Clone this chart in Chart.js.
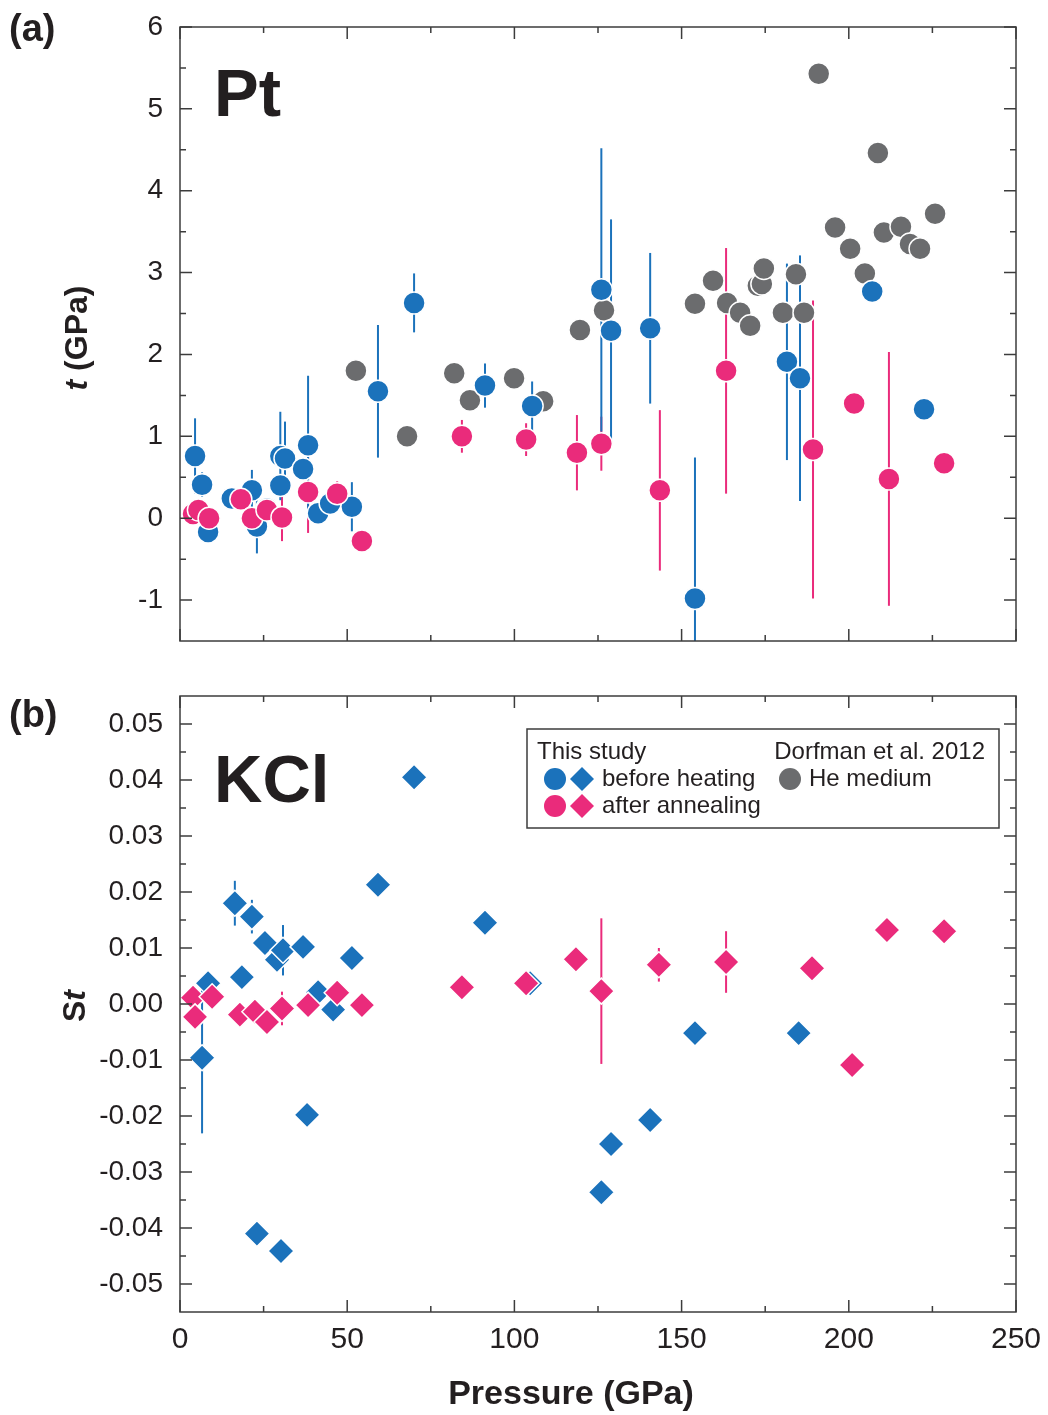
<!DOCTYPE html>
<html>
<head>
<meta charset="utf-8">
<script src="https://cdn.jsdelivr.net/npm/chart.js@4.4.1/dist/chart.umd.min.js"></script>
<style>
  body { margin: 0; background: #fff; }
  .wrap { position: relative; width: 1048px; height: 1415px; }
  canvas { position: absolute; left: 0; }
  #ptChart { top: 0; }
  #kclChart { top: 660px; }
</style>
</head>
<body>
<div class="wrap">
  <canvas id="ptChart" width="1048" height="660"></canvas>
  <canvas id="kclChart" width="1048" height="755"></canvas>
</div>
<script>
const FONT = '"Liberation Sans", Arial, Helvetica, sans-serif';
const INK = '#231f20';
const BLUE = '#1b72bb';
const PINK = '#ea2b7b';
const GRAY = '#6b6c6e';

// tick labels
const pressureTicks = [0, 50, 100, 150, 200, 250];
const ptTicks = [-1, 0, 1, 2, 3, 4, 5, 6];
const kclTicks = [-0.05, -0.04, -0.03, -0.02, -0.01, 0, 0.01, 0.02, 0.03, 0.04, 0.05];

// (a) Pt, this study, before heating
const ptBeforeP = [4.5, 6.6, 8.4, 15.5, 21.5, 23.0, 26.0, 30.0, 31.4, 30.0, 36.8, 38.3, 41.3, 44.9, 51.4, 59.2, 70.0, 91.2, 105.3, 126.0, 128.9, 140.6, 154.0, 181.5, 185.4, 207.0, 222.5];
const ptBeforeT = [0.76, 0.41, -0.17, 0.24, 0.34, -0.10, 0.12, 0.76, 0.73, 0.40, 0.60, 0.89, 0.06, 0.18, 0.14, 1.55, 2.63, 1.62, 1.37, 2.79, 2.29, 2.32, -0.98, 1.91, 1.71, 2.77, 1.33];
const ptBeforeErr = [0.46, 0.15, 0.10, 0.10, 0.25, 0.33, 0.10, 0.54, 0.45, 0.10, 0.10, 0.85, 0.10, 0.10, 0.30, 0.81, 0.36, 0.27, 0.30, 1.73, 1.36, 0.92, 1.72, 1.20, 1.50, 0, 0];

// (a) Pt, this study, after annealing
const ptAfterP = [3.9, 5.5, 8.7, 18.2, 21.5, 26.0, 30.5, 38.3, 47.0, 54.4, 84.3, 103.5, 118.7, 126.0, 143.5, 163.3, 189.3, 201.6, 212.0, 228.5];
const ptAfterT = [0.05, 0.10, 0.00, 0.23, 0.00, 0.10, 0.01, 0.32, 0.30, -0.28, 1.00, 0.96, 0.80, 0.91, 0.34, 1.80, 0.84, 1.40, 0.48, 0.67];
const ptAfterErr = [0.1, 0.1, 0.1, 0.1, 0.1, 0.1, 0.29, 0.5, 0.15, 0.1, 0.2, 0.2, 0.46, 0.33, 0.98, 1.5, 1.82, 0, 1.55, 0.05];

// (a) Pt, Dorfman et al. 2012, He medium
const ptHeP = [52.6, 67.9, 82.0, 86.7, 99.9, 108.6, 119.6, 126.8, 154.0, 159.4, 163.6, 167.5, 170.5, 172.8, 174.0, 174.6, 180.3, 184.2, 186.6, 191.0, 195.9, 200.4, 204.8, 208.7, 210.5, 215.6, 218.3, 221.3, 225.8];
const ptHeT = [1.80, 1.00, 1.77, 1.44, 1.71, 1.43, 2.30, 2.54, 2.62, 2.90, 2.63, 2.51, 2.35, 2.84, 2.86, 3.05, 2.51, 2.98, 2.51, 5.43, 3.55, 3.29, 2.99, 4.46, 3.49, 3.56, 3.35, 3.29, 3.72];

// (b) KCl, before heating
const kclBeforeP = [6.6, 8.4, 16.4, 18.5, 21.5, 23.0, 25.4, 29.0, 30.2, 30.8, 36.8, 38.0, 41.3, 45.8, 51.4, 59.2, 70.0, 91.2, 104.7, 126.0, 128.9, 140.6, 154.0, 185.0];
const kclBeforeSt = [-0.0096, 0.0037, 0.0180, 0.0048, 0.0156, -0.0410, 0.0109, 0.0079, -0.0441, 0.0096, 0.0102, -0.0198, 0.0021, -0.0010, 0.0082, 0.0213, 0.0405, 0.0145, 0.0037, -0.0336, -0.0250, -0.0207, -0.0052, -0.0052];
const kclBeforeErr = [0.0135, 0.001, 0.004, 0, 0.003, 0, 0.001, 0.002, 0, 0.0045, 0, 0, 0, 0, 0, 0, 0, 0, 0, 0, 0, 0, 0, 0];

// (b) KCl, after annealing
const kclAfterP = [3.9, 4.5, 9.6, 17.9, 22.4, 26.0, 30.5, 38.3, 47.0, 54.4, 84.3, 103.5, 118.4, 126.0, 143.2, 163.3, 189.0, 201.0, 211.4, 228.5];
const kclAfterSt = [0.0011, -0.0023, 0.0013, -0.0019, -0.0014, -0.0032, -0.0008, -0.0002, 0.0020, -0.0002, 0.0030, 0.0037, 0.0080, 0.0023, 0.0070, 0.0075, 0.0064, -0.0109, 0.0132, 0.0130];
const kclAfterErr = [0, 0, 0, 0, 0, 0, 0.003, 0, 0.001, 0, 0, 0, 0.001, 0.013, 0.003, 0.0055, 0, 0, 0, 0];

const toPoints = (xs, ys) => xs.map((x, i) => ({ x: x, y: ys[i] }));

// vertical error bars, drawn under the markers
const errorBars = {
    id: 'errorBars',
    beforeDatasetsDraw(chart) {
        const { ctx, chartArea: a, scales } = chart;
        ctx.save();
        ctx.beginPath();
        ctx.rect(a.left, a.top, a.right - a.left, a.bottom - a.top);
        ctx.clip();
        chart.data.datasets.forEach((ds, i) => {
            if (!ds.errors) return;
            const meta = chart.getDatasetMeta(i);
            ctx.strokeStyle = ds.backgroundColor;
            ctx.lineWidth = 2;
            ds.data.forEach((d, j) => {
                const e = ds.errors[j];
                if (!e) return;
                const x = meta.data[j].x;
                ctx.beginPath();
                ctx.moveTo(x, scales.y.getPixelForValue(d.y + e));
                ctx.lineTo(x, scales.y.getPixelForValue(d.y - e));
                ctx.stroke();
            });
        });
        ctx.restore();
    }
};

// box round the plot with inward ticks on all four sides
const frame = {
    id: 'frame',
    afterDatasetsDraw(chart) {
        const { ctx, chartArea: a, scales: { x, y } } = chart;
        const mid = v => v.slice(1).map((t, i) => (t + v[i]) / 2);
        const xt = x.ticks.map(t => t.value);
        const yt = y.ticks.map(t => t.value);
        ctx.save();
        ctx.strokeStyle = '#3c3c3c';
        ctx.lineWidth = 1.5;
        ctx.strokeRect(a.left, a.top, a.right - a.left, a.bottom - a.top);
        ctx.beginPath();
        const xMarks = (vals, len) => vals.forEach(v => {
            const px = x.getPixelForValue(v);
            ctx.moveTo(px, a.bottom); ctx.lineTo(px, a.bottom - len);
            ctx.moveTo(px, a.top); ctx.lineTo(px, a.top + len);
        });
        const yMarks = (vals, len) => vals.forEach(v => {
            const py = y.getPixelForValue(v);
            ctx.moveTo(a.left, py); ctx.lineTo(a.left + len, py);
            ctx.moveTo(a.right, py); ctx.lineTo(a.right - len, py);
        });
        xMarks(xt, 12); xMarks(mid(xt), 6);
        yMarks(yt, 12); yMarks(mid(yt), 6);
        ctx.stroke();
        ctx.restore();
    }
};

function drawYTitle(ctx, cx, cy, parts) {
    ctx.save();
    ctx.translate(cx, cy);
    ctx.rotate(-Math.PI / 2);
    ctx.fillStyle = INK;
    ctx.textBaseline = 'middle';
    ctx.textAlign = 'left';
    const fonts = parts.map(p => (p.italic ? 'italic ' : '') + 'bold 32px ' + FONT);
    let total = 0;
    parts.forEach((p, i) => { ctx.font = fonts[i]; total += ctx.measureText(p.text).width; });
    let xPos = -total / 2;
    parts.forEach((p, i) => {
        ctx.font = fonts[i];
        ctx.fillText(p.text, xPos, 0);
        xPos += ctx.measureText(p.text).width;
    });
    ctx.restore();
}

function drawText(ctx, text, x, y, font, align, baseline) {
    ctx.save();
    ctx.font = font;
    ctx.fillStyle = INK;
    ctx.textAlign = align || 'left';
    ctx.textBaseline = baseline || 'alphabetic';
    ctx.fillText(text, x, y);
    ctx.restore();
}

function circle(ctx, x, y, r, color) {
    ctx.beginPath();
    ctx.arc(x, y, r, 0, Math.PI * 2);
    ctx.fillStyle = color;
    ctx.fill();
}

function diamond(ctx, x, y, r, color) {
    ctx.beginPath();
    ctx.moveTo(x - r, y); ctx.lineTo(x, y - r); ctx.lineTo(x + r, y); ctx.lineTo(x, y + r);
    ctx.closePath();
    ctx.fillStyle = color;
    ctx.fill();
}

const ptLabels = {
    id: 'ptLabels',
    afterDraw(chart) {
        const { ctx, chartArea: a } = chart;
        drawText(ctx, '(a)', 9, 31, 'bold 38px ' + FONT, 'left', 'middle');
        drawText(ctx, 'Pt', a.left + 34, a.top + 89, 'bold 67px ' + FONT);
        drawYTitle(ctx, 78, (a.top + a.bottom) / 2 + 4, [{ text: 't', italic: true }, { text: ' (GPa)' }]);
    }
};

const kclLabels = {
    id: 'kclLabels',
    afterDraw(chart) {
        const { ctx, chartArea: a } = chart;
        drawText(ctx, '(b)', 9, 57, 'bold 38px ' + FONT, 'left', 'middle');
        drawText(ctx, 'KCl', a.left + 34, a.top + 106, 'bold 67px ' + FONT);
        drawYTitle(ctx, 76, (a.top + a.bottom) / 2 + 2, [{ text: 'S' }, { text: 't', italic: true }]);
        // x axis title, sits a little left of the plot centre as in the figure
        drawText(ctx, 'Pressure (GPa)', (a.left + a.right) / 2 - 27, a.bottom + 83, 'bold 34px ' + FONT, 'center', 'middle');

        // legend box
        const left = a.left + 347, top = a.top + 33;
        const right = a.right - 17, bottom = a.top + 132;
        ctx.save();
        ctx.fillStyle = '#fff';
        ctx.fillRect(left, top, right - left, bottom - top);
        ctx.strokeStyle = '#3c3c3c';
        ctx.lineWidth = 1.5;
        ctx.strokeRect(left, top, right - left, bottom - top);
        ctx.restore();
        const f = '24px ' + FONT;
        drawText(ctx, 'This study', left + 10, top + 23, f, 'left', 'middle');
        drawText(ctx, 'Dorfman et al. 2012', right - 14, top + 23, f, 'right', 'middle');
        circle(ctx, left + 28, top + 50, 11, BLUE);
        diamond(ctx, left + 55, top + 50, 12, BLUE);
        drawText(ctx, 'before heating', left + 75, top + 50, f, 'left', 'middle');
        circle(ctx, left + 263, top + 50, 11, GRAY);
        drawText(ctx, 'He medium', left + 282, top + 50, f, 'left', 'middle');
        circle(ctx, left + 28, top + 77, 11, PINK);
        diamond(ctx, left + 55, top + 77, 12, PINK);
        drawText(ctx, 'after annealing', left + 75, top + 77, f, 'left', 'middle');
    }
};

// ignore the label overhang padding so the plot box lands where it should
const noOverhang = s => { s.paddingTop = 0; s.paddingBottom = 0; s.paddingLeft = 0; s.paddingRight = 0; };

function xScale(showLabels, height) {
    return {
        type: 'linear', min: 0, max: 250,
        afterBuildTicks: s => { s.ticks = pressureTicks.map(v => ({ value: v })); },
        grid: { display: false, drawTicks: false },
        border: { display: false },
        ticks: { display: showLabels, font: { family: FONT, size: 30 }, color: INK, padding: 10, maxRotation: 0 },
        afterFit: s => { s.height = height; noOverhang(s); }
    };
}

function yScale(min, max, tickVals, fmt) {
    return {
        type: 'linear', min: min, max: max,
        afterBuildTicks: s => { s.ticks = tickVals.map(v => ({ value: v })); },
        grid: { display: false, drawTicks: false },
        border: { display: false },
        ticks: { font: { family: FONT, size: 28 }, color: INK, padding: 17, callback: fmt },
        afterFit: s => { s.width = 180; noOverhang(s); }
    };
}

const pointStyle = (color, style, r) => ({
    backgroundColor: color, borderColor: '#fff', borderWidth: 1.5,
    pointStyle: style, pointRadius: r, pointHoverRadius: r
});

new Chart(document.getElementById('ptChart'), {
    type: 'scatter',
    data: {
        datasets: [
            Object.assign({ label: 'after annealing', data: toPoints(ptAfterP, ptAfterT), errors: ptAfterErr, order: 1 }, pointStyle(PINK, 'circle', 11)),
            Object.assign({ label: 'before heating', data: toPoints(ptBeforeP, ptBeforeT), errors: ptBeforeErr, order: 2 }, pointStyle(BLUE, 'circle', 11)),
            Object.assign({ label: 'He medium', data: toPoints(ptHeP, ptHeT), order: 3 }, pointStyle(GRAY, 'circle', 11))
        ]
    },
    options: {
        responsive: false,
        animation: false,
        devicePixelRatio: 1,
        layout: { padding: { top: 27, right: 32, left: 0, bottom: 0 } },
        plugins: { legend: { display: false }, tooltip: { enabled: false } },
        scales: {
            x: xScale(false, 19),
            y: yScale(-1.5, 6, ptTicks, v => String(v))
        }
    },
    plugins: [errorBars, frame, ptLabels]
});

new Chart(document.getElementById('kclChart'), {
    type: 'scatter',
    data: {
        datasets: [
            Object.assign({ label: 'after annealing', data: toPoints(kclAfterP, kclAfterSt), errors: kclAfterErr, order: 1 }, pointStyle(PINK, 'rectRot', 13)),
            Object.assign({ label: 'before heating', data: toPoints(kclBeforeP, kclBeforeSt), errors: kclBeforeErr, order: 2 }, pointStyle(BLUE, 'rectRot', 13))
        ]
    },
    options: {
        responsive: false,
        animation: false,
        devicePixelRatio: 1,
        layout: { padding: { top: 36, right: 32, left: 0, bottom: 0 } },
        plugins: { legend: { display: false }, tooltip: { enabled: false } },
        scales: {
            x: xScale(true, 103),
            y: yScale(-0.055, 0.055, kclTicks, v => v.toFixed(2))
        }
    },
    plugins: [errorBars, frame, kclLabels]
});
</script>
</body>
</html>
